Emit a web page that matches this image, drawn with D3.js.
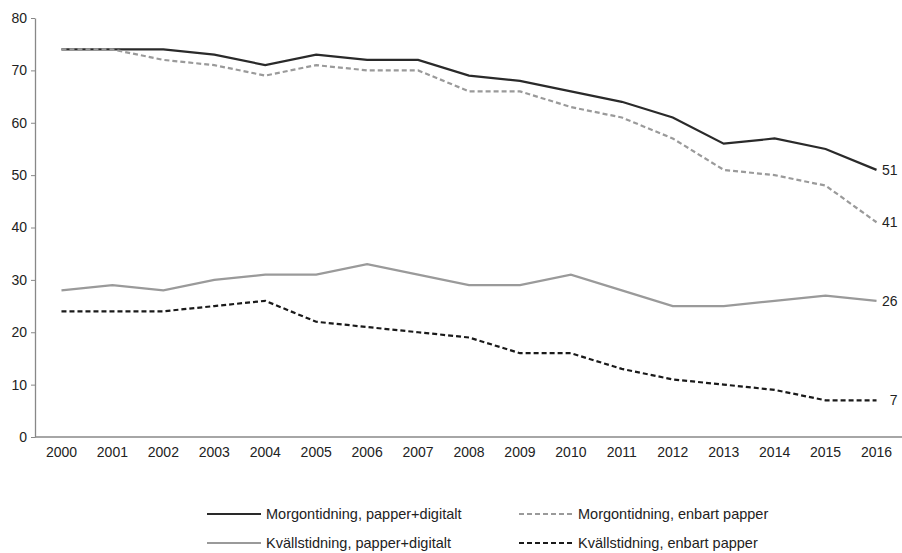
<!DOCTYPE html>
<html><head><meta charset="utf-8">
<script src="https://cdn.jsdelivr.net/npm/d3@7"></script>
<style>body{margin:0;background:#fff}svg{display:block}text{font-family:"Liberation Sans",Arial,sans-serif}</style>
</head><body><svg id="c" width="902" height="553"></svg>
<script>
const years = ["2000","2001","2002","2003","2004","2005","2006","2007","2008","2009","2010","2011","2012","2013","2014","2015","2016"];
const morgonPD = [74,74,74,73,71,73,72,72,69,68,66,64,61,56,57,55,51];
const morgonP  = [74,74,72,71,69,71,70,70,66,66,63,61,57,51,50,48,41];
const kvallsPD = [28,29,28,30,31,31,33,31,29,29,31,28,25,25,26,27,26];
const kvallsP  = [24,24,24,25,26,22,21,20,19,16,16,13,11,10,9,7,7];
const seriesNames = ["Morgontidning, papper+digitalt","Morgontidning, enbart papper","Kvällstidning, papper+digitalt","Kvällstidning, enbart papper"];
const yTicks = [0,10,20,30,40,50,60,70,80];

const series = [
  {name:seriesNames[0], values:morgonPD, color:"#2a2a2a", dash:null},
  {name:seriesNames[1], values:morgonP,  color:"#9a9a9a", dash:"5,3"},
  {name:seriesNames[2], values:kvallsPD, color:"#9a9a9a", dash:null},
  {name:seriesNames[3], values:kvallsP,  color:"#1a1a1a", dash:"5,3"}
];

const svg = d3.select("#c");
const x = d3.scaleBand().domain(years).range([36,902]);
const y = d3.scaleLinear().domain([0,80]).range([437,18]);

// y axis
const ya = svg.append("g").attr("transform","translate(35,0)")
  .call(d3.axisLeft(y).tickValues(yTicks).tickSize(4).tickPadding(4).tickSizeOuter(0));
ya.select(".domain").attr("stroke","#888").attr("stroke-width",1.3);
ya.selectAll(".tick line").attr("stroke","#888");
ya.selectAll(".tick text").attr("fill","#222").style("font-size","14px").style("font-family","'Liberation Sans',Arial,sans-serif");

// x axis
const xa = svg.append("g").attr("transform","translate(0,437)")
  .call(d3.axisBottom(x).tickSize(0).tickPadding(10).tickSizeOuter(0));
xa.select(".domain").attr("stroke","#888").attr("stroke-width",1.3).attr("d","M35,0H902");
xa.selectAll(".tick text").attr("fill","#222").style("font-size","14px").style("font-family","'Liberation Sans',Arial,sans-serif");

const line = d3.line().x((d,i)=>x(years[i])+x.bandwidth()/2).y(d=>y(d));
series.forEach(s=>{
  svg.append("path").attr("d",line(s.values)).attr("fill","none")
    .attr("stroke",s.color).attr("stroke-width",2.2)
    .attr("stroke-dasharray",s.dash);
  const last = s.values[s.values.length-1];
  svg.append("text").attr("x",x(years[years.length-1])+x.bandwidth()/2+21)
    .attr("y",y(last)).attr("dy","0.35em").attr("fill","#222").attr("text-anchor","end")
    .style("font-size","14px").text(last);
});

// legend
const legPos = [[207,514],[519,514],[207,543],[519,543]];
series.forEach((s,i)=>{
  const [lx,ly] = legPos[i];
  svg.append("line").attr("x1",lx).attr("x2",lx+54).attr("y1",ly).attr("y2",ly)
    .attr("stroke",s.color).attr("stroke-width",2.2).attr("stroke-dasharray",s.dash);
  svg.append("text").attr("x",lx+59).attr("y",ly).attr("dy","0.35em").attr("fill","#222")
    .style("font-size","14.5px").text(s.name);
});
</script></body></html>
